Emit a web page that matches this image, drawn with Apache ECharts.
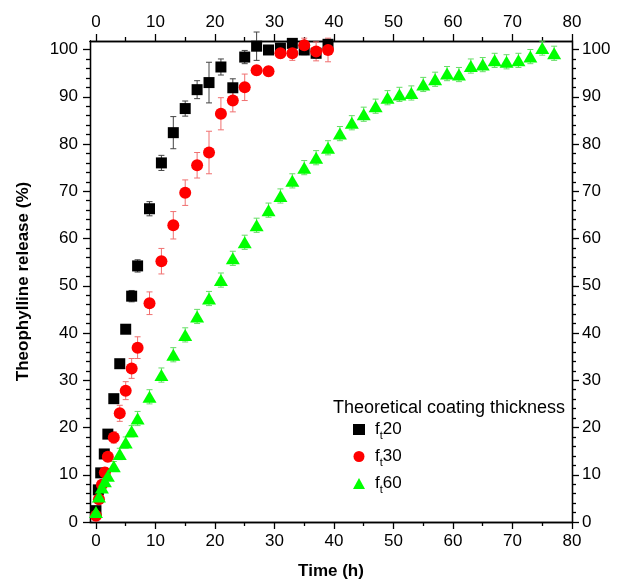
<!DOCTYPE html>
<html>
<head>
<meta charset="utf-8">
<script src="https://cdn.jsdelivr.net/npm/echarts@6/dist/echarts.min.js"></script>
<style>html,body{margin:0;padding:0;background:#fff}#c{width:617px;height:580px}</style>
</head>
<body>
<div id="c"></div>
<script>
// ---- data ----
const timesT20 = [0, 0.4, 0.8, 1.4, 2, 3, 4, 5, 6, 7, 9, 11, 13, 15, 17, 19, 21, 23, 25, 27, 29, 31, 33, 35, 37, 39];
const releaseT20 = [2.4, 6.8, 10.4, 14.4, 18.6, 26.1, 33.5, 40.8, 47.8, 54.2, 66.3, 76.0, 82.4, 87.5, 91.5, 93.0, 96.3, 91.9, 98.4, 100.7, 99.9, 100.3, 101.3, 99.9, 99.2, 101.1];
const errT20 = [0.5, 0.5, 0.5, 0.5, 0.8, 0.8, 0.8, 0.8, 1.2, 1.3, 1.5, 1.6, 3.4, 1.6, 1.9, 4.3, 1.7, 1.9, 1.4, 3.0, 0.8, 1.0, 1.0, 1.0, 1.0, 1.0];

const timesT30 = [0, 0.5, 1, 1.5, 2, 3, 4, 5, 6, 7, 9, 11, 13, 15, 17, 19, 21, 23, 25, 27, 29, 31, 33, 35, 37, 39];
const releaseT30 = [1.3, 4.8, 7.9, 10.5, 13.8, 17.9, 23.0, 27.8, 32.5, 36.9, 46.3, 55.2, 62.8, 69.7, 75.5, 78.2, 86.4, 89.2, 92.0, 95.6, 95.4, 99.2, 99.2, 100.9, 99.6, 99.9];
const errT30 = [0.5, 0.8, 0.8, 1.0, 1.0, 1.2, 1.7, 1.9, 2.1, 2.3, 2.4, 2.7, 2.9, 2.7, 2.7, 4.5, 3.4, 2.4, 2.8, 1.0, 1.0, 1.0, 1.5, 1.5, 2.0, 2.5];

const timesT60 = [0, 0.5, 1, 1.5, 2, 3, 4, 5, 6, 7, 9, 11, 13, 15, 17, 19, 21, 23, 25, 27, 29, 31, 33, 35, 37, 39, 41, 43, 45, 47, 49, 51, 53, 55, 57, 59, 61, 63, 65, 67, 69, 71, 73, 75, 77];
const releaseT60 = [2.1, 5.4, 7.3, 8.6, 9.8, 11.8, 14.4, 16.8, 19.2, 21.9, 26.5, 31.1, 35.4, 39.6, 43.5, 47.3, 51.2, 55.8, 59.2, 62.8, 66.0, 69.0, 72.2, 75.0, 77.1, 79.2, 82.2, 84.5, 86.3, 88.0, 89.8, 90.5, 90.8, 92.6, 93.7, 94.9, 94.7, 96.5, 96.8, 97.7, 97.4, 97.7, 98.5, 100.3, 99.2];
const errT60 = [0.8, 0.8, 0.8, 0.8, 0.8, 1.0, 1.2, 1.2, 1.2, 1.5, 1.5, 1.5, 1.5, 1.5, 1.5, 1.5, 1.5, 1.5, 1.5, 1.5, 1.5, 1.5, 1.5, 1.5, 1.5, 1.5, 1.5, 1.5, 1.5, 1.5, 1.5, 1.5, 1.5, 1.5, 1.5, 1.5, 1.5, 1.5, 1.5, 1.5, 1.5, 1.5, 1.5, 1.5, 1.5];

const xMajor = [0, 10, 20, 30, 40, 50, 60, 70, 80];
const xMinor = [5, 15, 25, 35, 45, 55, 65, 75];
const yMajor = [0, 10, 20, 30, 40, 50, 60, 70, 80, 90, 100];
const yMinor = [2, 4, 6, 8, 12, 14, 16, 18, 22, 24, 26, 28, 32, 34, 36, 38, 42, 44, 46, 48, 52, 54, 56, 58, 62, 64, 66, 68, 72, 74, 76, 78, 82, 84, 86, 88, 92, 94, 96, 98];

const seriesNames = ['ft20', 'ft30', 'ft60'];
const legendTitle = 'Theoretical coating thickness';

// ---- chart ----
const FONT = '"Liberation Sans", Arial, sans-serif';
const chart = echarts.init(document.getElementById('c'), null, {renderer: 'canvas'});
const X_MIN = -1, X_MAX = 80, Y_MIN = 0, Y_MAX = 101.8;

function xAxisDef(pos, major) {
  return {
    type: 'value', position: pos, min: X_MIN, max: X_MAX,
    axisLine: {show: true, onZero: false, lineStyle: {color: '#000', width: 1.3}},
    axisTick: {show: true, customValues: major ? xMajor : xMinor, length: major ? 7 : 4, lineStyle: {color: '#000', width: 1.3}},
    axisLabel: {show: major, customValues: xMajor, color: '#000', fontSize: 17, fontFamily: FONT, margin: 10},
    splitLine: {show: false}
  };
}
function yAxisDef(pos, major) {
  return {
    type: 'value', position: pos, min: Y_MIN, max: Y_MAX,
    axisLine: {show: true, onZero: false, lineStyle: {color: '#000', width: 1.3}},
    axisTick: {show: true, customValues: major ? yMajor : yMinor, length: major ? 7 : 4, lineStyle: {color: '#000', width: 1.3}},
    axisLabel: {show: major, customValues: yMajor, color: '#000', fontSize: 17, fontFamily: FONT, margin: 10},
    splitLine: {show: false}
  };
}

const xAxes = [xAxisDef('bottom', true), xAxisDef('bottom', false), xAxisDef('top', true), xAxisDef('top', false)];
xAxes[0].name = 'Time (h)';
xAxes[0].nameLocation = 'middle';
xAxes[0].nameGap = 41;
xAxes[0].nameTextStyle = {fontSize: 17, fontWeight: 'bold', fontFamily: FONT, color: '#000'};
xAxes[0].axisLabel.margin = 11;
xAxes[2].axisLabel.margin = 10;

const yAxes = [yAxisDef('left', true), yAxisDef('left', false), yAxisDef('right', true), yAxisDef('right', false)];
yAxes[0].name = 'Theophylline release (%)';
yAxes[0].nameLocation = 'middle';
yAxes[0].nameGap = 58;
yAxes[0].nameRotate = 90;
yAxes[0].nameTextStyle = {fontSize: 17, fontWeight: 'bold', fontFamily: FONT, color: '#000'};
yAxes[0].axisLabel.margin = 12;

function errSeries(times, vals, errs, color) {
  return {
    type: 'custom', xAxisIndex: 0, yAxisIndex: 0, z: 1, silent: true,
    data: times.map((t, i) => [t, vals[i] - errs[i], vals[i] + errs[i]]),
    encode: {x: 0, y: [1, 2]},
    renderItem: function (params, api) {
      const x = api.value(0);
      const lo = api.coord([x, api.value(1)]);
      const hi = api.coord([x, api.value(2)]);
      const w = 3;
      const st = {stroke: color, lineWidth: 1};
      return {type: 'group', children: [
        {type: 'line', shape: {x1: hi[0], y1: hi[1], x2: lo[0], y2: lo[1]}, style: st},
        {type: 'line', shape: {x1: hi[0] - w, y1: hi[1], x2: hi[0] + w, y2: hi[1]}, style: st},
        {type: 'line', shape: {x1: lo[0] - w, y1: lo[1], x2: lo[0] + w, y2: lo[1]}, style: st}
      ]};
    }
  };
}

function pts(times, vals) { return times.map((t, i) => [t, vals[i]]); }

const option = {
  animation: false,
  backgroundColor: '#fff',
  grid: {left: 90, right: 45, top: 41, bottom: 58, containLabel: false, outerBoundsMode: 'none'},
  xAxis: xAxes,
  yAxis: yAxes,
  graphic: [{
    type: 'text', left: 333, top: 399,
    style: {text: legendTitle, font: '18px ' + FONT, fill: '#000'}
  }],
  legend: {
    orient: 'vertical', left: 348, top: 416, itemGap: 7, itemWidth: 12, itemHeight: 11,
    data: seriesNames,
    formatter: function (name) { return '{n|f}{s|t}{n|' + name.slice(2) + '}'; },
    textStyle: {color: '#000', fontFamily: FONT, fontSize: 17, padding: [0, 0, 0, 5],
      rich: {n: {fontSize: 17, fontFamily: FONT, color: '#000'}, s: {fontSize: 11, fontFamily: FONT, color: '#000', padding: [12, 0, 0, 0]}}}
  },
  series: [
    errSeries(timesT20, releaseT20, errT20, '#444'),
    errSeries(timesT30, releaseT30, errT30, '#f07070'),
    errSeries(timesT60, releaseT60, errT60, '#66dd66'),
    {name: 'ft20', type: 'scatter', symbol: 'rect', symbolSize: 11, z: 3, data: pts(timesT20, releaseT20), itemStyle: {color: '#000', opacity: 1}},
    {name: 'ft30', type: 'scatter', symbol: 'circle', symbolSize: 12, z: 4, data: pts(timesT30, releaseT30), itemStyle: {color: '#ff0000', opacity: 1}},
    {name: 'ft60', type: 'scatter', symbol: 'triangle', symbolSize: [14, 12], z: 5, data: pts(timesT60, releaseT60), itemStyle: {color: '#00ff00', opacity: 1}}
  ]
};
chart.setOption(option);
</script>
</body>
</html>
